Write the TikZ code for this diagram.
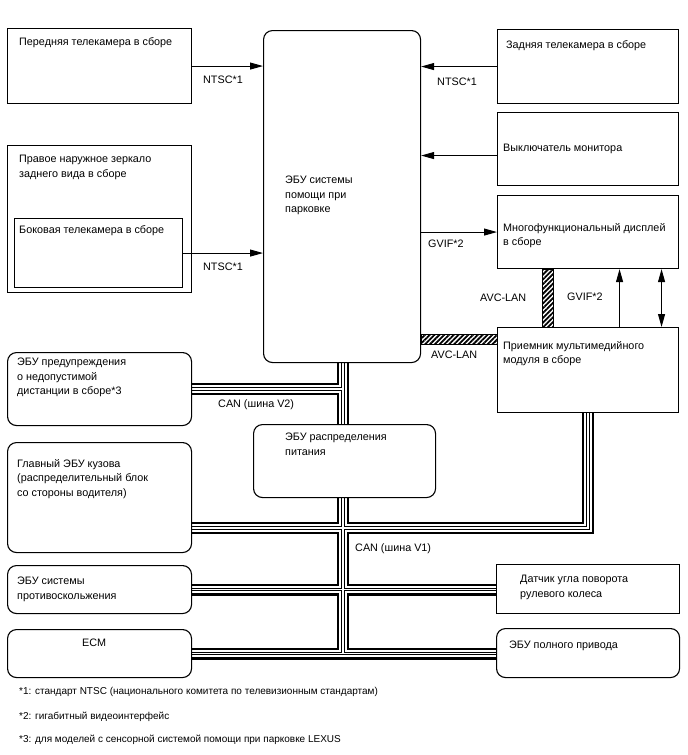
\documentclass[tikz,border=0pt]{standalone}
\usepackage{fontspec}
\setmainfont{Liberation Sans}
\usetikzlibrary{arrows.meta, positioning, backgrounds, patterns.meta}

\begin{document}
\begin{tikzpicture}[
  x=1pt, y=-1pt,
  unit/.style={draw, line width=1.1pt, fill=white, anchor=north west, inner sep=0pt},
  ecu/.style={unit, rounded corners=9pt},
  txt/.style={inner sep=0pt, align=left, font=\fontsize{10.8}{14.5}\selectfont},
  tag/.style={txt, anchor=north west},
  note/.style={tag, font=\fontsize{10}{12}\selectfont},
  arrow/.style={-{Triangle[length=13pt, width=7pt]}, line width=1pt},
  avclan/.style={draw, line width=0.8pt, pattern={Lines[angle=45, distance=3.4pt, line width=1.8pt]}}
]
\useasboundingbox (0,0) rectangle (688,755);

\node[unit, minimum width=184pt, minimum height=75pt] (frontcam) at (7,28) {};
\node[unit, minimum width=184pt, minimum height=147pt] (mirror) at (7,145) {};
\node[unit, minimum width=168pt, minimum height=69pt] (sidecam) at (14,218) {};
\node[ecu, minimum width=157pt, minimum height=332pt] (park) at (263,30) {};
\node[unit, minimum width=181pt, minimum height=74pt] (rearcam) at (497,29) {};
\node[unit, minimum width=181pt, minimum height=73pt] (monsw) at (497,112) {};
\node[unit, minimum width=181pt, minimum height=73pt] (disp) at (497,195) {};
\node[unit, minimum width=181pt, minimum height=85pt] (recv) at (497,327) {};
\node[ecu, minimum width=184pt, minimum height=73pt] (warn) at (7,352) {};
\node[ecu, minimum width=184pt, minimum height=110pt] (body) at (7,442) {};
\node[ecu, minimum width=184pt, minimum height=48pt] (skid) at (7,565) {};
\node[ecu, minimum width=184pt, minimum height=48pt] (ecm) at (7,629) {};
\node[ecu, minimum width=182pt, minimum height=73pt] (pdu) at (253,424) {};
\node[unit, minimum width=183pt, minimum height=49pt] (steer) at (496,564) {};
\node[ecu, minimum width=183pt, minimum height=49pt] (fwd) at (496,628) {};

\node[txt, below right=9pt and 12pt of frontcam.north west] (frontcamtxt) {Передняя телекамера в сборе};
\node[txt, below right=10pt and 12pt of mirror.north west] (mirrortxt) {Правое наружное зеркало\\заднего вида в сборе};
\node[txt, below right=7pt and 5pt of sidecam.north west] (sidecamtxt) {Боковая телекамера в сборе};
\node[txt, below right=146pt and 22pt of park.north west] (parktxt) {ЭБУ системы\\помощи при\\парковке};
\node[txt, below right=11pt and 9pt of rearcam.north west] (rearcamtxt) {Задняя телекамера в сборе};
\node[txt, below right=32pt and 6pt of monsw.north west] (monswtxt) {Выключатель монитора};
\node[txt, below right=28pt and 6pt of disp.north west] (disptxt) {Многофункциональный дисплей\\в сборе};
\node[txt, below right=14pt and 6pt of recv.north west] (recvtxt) {Приемник мультимедийного\\модуля в сборе};
\node[txt, below right=6pt and 10pt of warn.north west] (warntxt) {ЭБУ предупреждения\\о недопустимой\\дистанции в сборе*3};
\node[txt, below right=17pt and 10pt of body.north west] (bodytxt) {Главный ЭБУ кузова\\(распределительный блок\\со стороны водителя)};
\node[txt, below right=12pt and 10pt of skid.north west] (skidtxt) {ЭБУ системы\\противоскольжения};
\node[txt, below right=10pt and 75pt of ecm.north west] (ecmtxt) {ECM};
\node[txt, below right=9pt and 32pt of pdu.north west] (pdutxt) {ЭБУ распределения\\питания};
\node[txt, below right=11pt and 24pt of steer.north west] (steertxt) {Датчик угла поворота\\рулевого колеса};
\node[txt, below right=13pt and 13pt of fwd.north west] (fwdtxt) {ЭБУ полного привода};

\coordinate (v2) at (343,388);
\coordinate (v1) at (343,528);
\coordinate (rx) at (588,528);
\begin{scope}[on background layer]
\foreach \w/\c in {12/black, 7.4/white, 3.4/black, 1.2/white}
  \draw[line width=\w pt, \c]
    (park.south -| v2) -- (pdu.north -| v2)
    (warn.east) -- (warn.east -| v2)
    (pdu.south -| v2) -- (ecm.east -| v2)
    (body.east |- v1) -- (rx) -- (recv.south -| rx)
    (skid.east) -- (skid.east -| steer.west)
    (ecm.east) -- (ecm.east -| fwd.west);
\end{scope}

\draw[arrow] (frontcam.east) -- (frontcam.east -| park.west);
\draw[arrow] (sidecam.east) -- (sidecam.east -| park.west);
\draw[arrow] (rearcam.west) -- (rearcam.west -| park.east);
\draw[arrow] ([yshift=-6.5pt]monsw.west) -- ([yshift=-6.5pt]monsw.west -| park.east);
\draw[arrow] (disp.west -| park.east) -- (disp.west);
\draw[arrow] ([xshift=31.5pt]recv.north) -- ([xshift=31.5pt]disp.south);
\draw[arrow, {Triangle[length=13pt, width=7pt]}-{Triangle[length=13pt, width=7pt]}] ([xshift=73.5pt]recv.north) -- ([xshift=73.5pt]disp.south);
\draw[avclan] ([xshift=-45.5pt]recv.north) rectangle ([xshift=-34.5pt]disp.south);
\draw[avclan] ([yshift=-7pt]recv.north west) rectangle ([yshift=-17pt]recv.north west -| park.east);

\node[tag] (ntsca) at (203,76) {NTSC*1};
\node[tag] (ntscb) at (203,263) {NTSC*1};
\node[tag] (ntscc) at (437,78) {NTSC*1};
\node[tag] (gvifa) at (428,240) {GVIF*2};
\node[tag] (gvifb) at (567,293) {GVIF*2};
\node[tag] (avca) at (480,294) {AVC-LAN};
\node[tag] (avcb) at (431,351) {AVC-LAN};
\node[tag] (canvb) at (218,399) {CAN (шина V2)};
\node[tag] (canva) at (355,543) {CAN (шина V1)};

\node[note] (fna) at (19,687) {*1: стандарт NTSC (национального комитета по телевизионным стандартам)};
\node[note] (fnb) at (19,712) {*2: гигабитный видеоинтерфейс};
\node[note] (fnc) at (19,735) {*3: для моделей с сенсорной системой помощи при парковке LEXUS};
\end{tikzpicture}
\end{document}
